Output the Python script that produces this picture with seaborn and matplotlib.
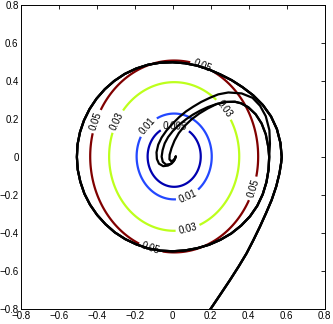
import numpy as np
import matplotlib
matplotlib.use("Agg")
import matplotlib.pyplot as plt
import seaborn as sns

# ---- data ----
levels = [0.005, 0.01, 0.03, 0.05]
level_colors = ["#0000b0", "#2348ff", "#bdff1c", "#800000"]
# quadratic bowl whose contours are drawn: f = qa*(x-cx)^2 + qb*(y-cy)^2
qa, qb = 0.256, 0.196
cx, cy = 0.008, 0.003

label_pos = [(0.153, 0.475), (-0.398, 0.186), (0.421, -0.165), (-0.119, -0.489),
             (-0.288, 0.186), (0.265, 0.247), (0.081, -0.384),
             (-0.13, 0.159), (0.081, -0.209),
             (0.012, 0.158)]

# incoming line from the bottom edge up the right side
entry_x = [0.144, 0.196, 0.250, 0.302, 0.348, 0.389, 0.425, 0.459, 0.492, 0.521,
           0.545, 0.562, 0.571]
entry_y = [-0.884, -0.805, -0.725, -0.647, -0.575, -0.507, -0.437, -0.367, -0.294, -0.226,
           -0.155, -0.086, -0.030]

# one counter-clockwise loop round the contours, read as angle (deg) / distance from origin
loop_angle = [0, 7.5, 15, 22.5, 30, 37.5, 45, 52.5, 60, 67.5, 75, 82.5, 90, 97.5,
              105, 112.5, 120, 127.5, 135, 142.5, 150, 157.5, 165, 172.5, 180, 187.5,
              195, 202.5, 210, 217.5, 225, 232.5, 240, 247.5, 255, 262.5, 270, 277.5,
              285, 292.5, 300, 307.5, 315, 322.5, 330, 337.5, 345, 352.5, 360]
loop_radius = [0.574, 0.572, 0.568, 0.560, 0.548, 0.534, 0.520, 0.510, 0.502, 0.499,
               0.498, 0.498, 0.499, 0.501, 0.503, 0.504, 0.505, 0.505, 0.505, 0.505,
               0.505, 0.505, 0.505, 0.505, 0.504, 0.504, 0.503, 0.503, 0.502, 0.501,
               0.500, 0.500, 0.499, 0.498, 0.498, 0.497, 0.496, 0.496, 0.497, 0.500,
               0.503, 0.507, 0.510, 0.513, 0.514, 0.513, 0.511, 0.509, 0.508]

# strand 1 (outer strand into the centre)
s1_x = [0.512, 0.509, 0.490, 0.460, 0.420, 0.363, 0.293, 0.240, 0.196, 0.150,
        0.108, 0.070, 0.034, 0.000, -0.032, -0.058, -0.076, -0.085, -0.083, -0.072,
        -0.050, -0.025, -0.004, 0.010, 0.016]
s1_y = [0.070, 0.142, 0.215, 0.270, 0.312, 0.335, 0.340, 0.330, 0.312, 0.290,
        0.265, 0.240, 0.210, 0.176, 0.140, 0.103, 0.065, 0.025, -0.010, -0.035,
        -0.048, -0.045, -0.033, -0.015, 0.003]

# strand 2 (middle strand)
s2_x = [0.503, 0.490, 0.468, 0.437, 0.398, 0.360, 0.328, 0.280, 0.231, 0.185,
        0.144, 0.108, 0.072, 0.034, 0.000, -0.024, -0.042, -0.053, -0.058, -0.052,
        -0.035, -0.012, 0.005, 0.014, 0.016]
s2_y = [0.054, 0.120, 0.177, 0.225, 0.262, 0.283, 0.291, 0.290, 0.279, 0.263,
        0.244, 0.224, 0.200, 0.170, 0.136, 0.105, 0.072, 0.036, 0.002, -0.025,
        -0.040, -0.037, -0.022, -0.005, 0.003]

# strand 3 (inner strand, leaves strand 2 near the top)
s3_x = [0.185, 0.140, 0.100, 0.062, 0.032, 0.010, -0.006, -0.016, -0.017, -0.008,
        0.005, 0.013, 0.016]
s3_y = [0.256, 0.229, 0.199, 0.163, 0.126, 0.087, 0.047, 0.012, -0.012, -0.022,
        -0.016, -0.005, 0.003]

ticks = [-0.8, -0.6, -0.4, -0.2, 0, 0.2, 0.4, 0.6, 0.8]
tick_labels = ["\u22120.8", "\u22120.6", "\u22120.4", "\u22120.2", "0", "0.2", "0.4", "0.6", "0.8"]

# ---- drawing ----
sns.set_theme(style="white")
plt.rcParams["font.family"] = ["Liberation Sans", "DejaVu Sans"]

fig = plt.figure(figsize=(3.33, 3.24), dpi=100)
ax = fig.add_axes([0.062, 0.0463, 0.913, 0.938])

gx = np.linspace(-0.8, 0.8, 401)
gy = np.linspace(-0.8, 0.8, 401)
GX, GY = np.meshgrid(gx, gy)
F = qa * (GX - cx) ** 2 + qb * (GY - cy) ** 2
cs = ax.contour(GX, GY, F, levels=levels, colors=level_colors, linewidths=1.6)
ax.clabel(cs, manual=label_pos, inline=True, inline_spacing=3, fontsize=7,
          colors="black", fmt="%g")

th = np.deg2rad(np.array(loop_angle))
r = np.array(loop_radius)
loop_x = list(r * np.cos(th))
loop_y = list(r * np.sin(th))

outer_x = entry_x + loop_x
outer_y = entry_y + loop_y
traj = [
    (outer_x + s1_x, outer_y + s1_y),
    (outer_x + s2_x, outer_y + s2_y),
    (outer_x + s2_x[:9] + s3_x, outer_y + s2_y[:9] + s3_y),
]
for tx, ty in traj:
    sns.lineplot(x=tx, y=ty, sort=False, estimator=None, color="black",
                 linewidth=1.6, ax=ax, legend=False)
for line in ax.get_lines():
    line.set_solid_joinstyle("round")

ax.set_xlim(-0.8, 0.8)
ax.set_ylim(-0.8, 0.8)
ax.set_xticks(ticks)
ax.set_yticks(ticks)
ax.set_xticklabels(tick_labels)
ax.set_yticklabels(tick_labels)
ax.tick_params(direction="in", length=3, width=0.6, top=True, right=True,
               labelsize=7, pad=1.5, colors="black")
for s in ax.spines.values():
    s.set_visible(True)
    s.set_color("black")
    s.set_linewidth(0.7)
ax.set_facecolor("white")

fig.savefig("out.png", dpi=100, facecolor="white")
